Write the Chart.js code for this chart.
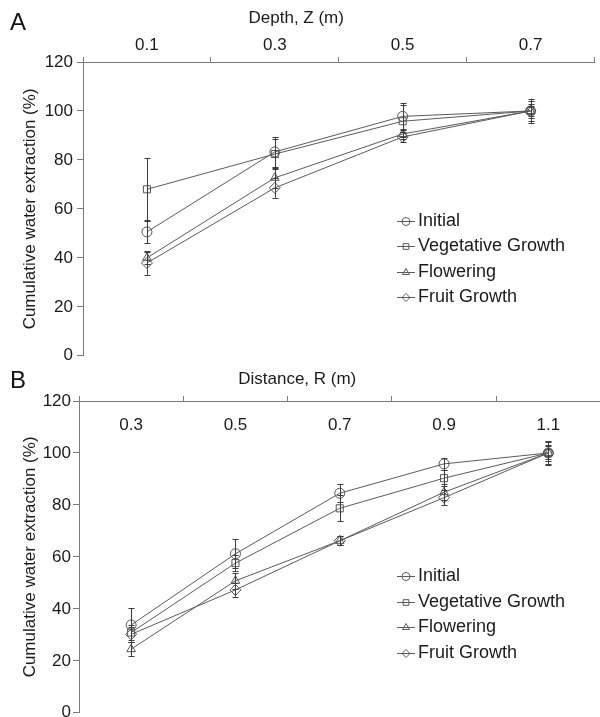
<!DOCTYPE html>
<html>
<head>
<meta charset="utf-8">
<script src="https://cdn.jsdelivr.net/npm/chart.js@4.4.0/dist/chart.umd.min.js"></script>
<style>
  html, body { margin: 0; padding: 0; background: #fff; overflow: hidden; }
  #page { position: relative; width: 600px; height: 717px; overflow: hidden; font-family: "Liberation Sans", Arial, sans-serif; }
  .panel { position: absolute; left: 0; }
  .tag { position: absolute; font-size: 24px; color: #111; line-height: 1; }
</style>
</head>
<body>
<div id="page">
  <div class="panel" style="top:0; width:601px; height:370px"><canvas id="chartA"></canvas></div>
  <div class="panel" style="top:360px; width:607px; height:365px"><canvas id="chartB"></canvas></div>
  <div class="tag" style="left:10px; top:10px">A</div>
  <div class="tag" style="left:10px; top:368px">B</div>
</div>
<script>
// panel A: depth
const depthLabels = ["0.1", "0.3", "0.5", "0.7"];
const depthInitial = [50.6, 83.3, 97.8, 100];
const depthInitialErr = [4.7, 6, 5.5, 5];
const depthVegetative = [68.0, 82.4, 95.8, 100];
const depthVegetativeErr = [12.8, 6, 6.5, 4];
const depthFlowering = [40.0, 72.7, 90.6, 100];
const depthFloweringErr = [2.5, 4, 2, 3];
const depthFruit = [37.9, 68.6, 89.4, 100];
const depthFruitErr = [4.8, 4, 2, 2];

// panel B: distance
const distLabels = ["0.3", "0.5", "0.7", "0.9", "1.1"];
const distInitial = [33.8, 61.2, 84.5, 95.8, 100];
const distInitialErr = [6.5, 5.6, 3.5, 2.3, 4.3];
const distVegetative = [30.9, 57.6, 78.7, 90.3, 100];
const distVegetativeErr = [3, 3, 5, 3, 3];
const distFlowering = [24.5, 50.8, 66.2, 84.9, 100];
const distFloweringErr = [2.6, 3, 1.8, 3, 2.5];
const distFruit = [30.2, 47.3, 66.2, 82.8, 100];
const distFruitErr = [3, 2.6, 1.8, 2.8, 4.5];

const yTicks = { min: 0, max: 120, step: 20 };
const seriesNames = ["Initial", "Vegetative Growth", "Flowering", "Fruit Growth"];
const seriesMarkers = ["circle", "rect", "triangle", "rectRot"];

const FONT = '"Liberation Sans", Arial, sans-serif';
const LINE = "#5a5a5a";
const AXIS = "#7a7a7a";
const TEXT = "#1a1a1a";

// the axis titles sit left of the axis centre in the original,
// trailing spaces push the centred text over
const titleShift = "\u00a0".repeat(18);

const errorBars = {
  id: "errorBars",
  afterDatasetsDraw(chart) {
    const ctx = chart.ctx;
    const y = chart.scales.y;
    ctx.save();
    ctx.strokeStyle = "#3c3c3c";
    ctx.lineWidth = 1;
    chart.data.datasets.forEach((ds, i) => {
      chart.getDatasetMeta(i).data.forEach((pt, j) => {
        const top = y.getPixelForValue(ds.data[j] + ds.errors[j]);
        const bot = y.getPixelForValue(ds.data[j] - ds.errors[j]);
        const x = Math.round(pt.x) + 0.5;
        ctx.beginPath();
        ctx.moveTo(x, top); ctx.lineTo(x, bot);
        ctx.moveTo(x - 3, Math.round(top) + 0.5); ctx.lineTo(x + 3, Math.round(top) + 0.5);
        ctx.moveTo(x - 3, Math.round(bot) + 0.5); ctx.lineTo(x + 3, Math.round(bot) + 0.5);
        ctx.stroke();
      });
    });
    ctx.restore();
  }
};

const insideLegend = {
  id: "insideLegend",
  afterDraw(chart, args, opts) {
    const { ctx, chartArea } = chart;
    ctx.save();
    ctx.font = "18px " + FONT;
    ctx.textBaseline = "middle";
    chart.data.datasets.forEach((ds, i) => {
      const y = Math.round(chartArea.top + opts.top + i * opts.step) + 0.5;
      const x = opts.left;
      ctx.strokeStyle = LINE;
      ctx.lineWidth = 1;
      ctx.beginPath();
      ctx.moveTo(x, y); ctx.lineTo(x + 18, y);
      ctx.stroke();
      ctx.fillStyle = "rgba(255,255,255,0)";
      Chart.helpers.drawPoint(ctx, { pointStyle: ds.pointStyle, radius: 4, borderWidth: 1, rotation: 0 }, x + 9, y);
      ctx.fillStyle = TEXT;
      ctx.fillText(ds.label, x + 21, y);
    });
    ctx.restore();
  }
};

function makeDatasets(values, errors) {
  return values.map((data, i) => ({
    label: seriesNames[i],
    data,
    errors: errors[i],
    borderColor: LINE,
    borderWidth: 1,
    pointStyle: seriesMarkers[i],
    pointRadius: seriesMarkers[i] === "rectRot" ? 5.5 : 5,
    pointBorderColor: "#555",
    pointBackgroundColor: "rgba(255,255,255,0)",
    pointBorderWidth: 1,
    tension: 0,
    fill: false
  }));
}

function makeOptions(cfg) {
  return {
    responsive: true,
    maintainAspectRatio: false,
    animation: false,
    layout: { padding: 0 },
    plugins: {
      legend: { display: false },
      tooltip: { enabled: false },
      insideLegend: cfg.legend
    },
    scales: {
      x: {
        type: "category",
        position: "top",
        offset: true,
        grid: { offset: true, drawOnChartArea: false, tickLength: 5, color: AXIS },
        border: { display: true, color: AXIS, width: 1 },
        ticks: {
          color: TEXT, font: { family: FONT, size: 17 }, maxRotation: 0, autoSkip: false,
          padding: cfg.xTickPad, mirror: cfg.xMirror
        },
        title: {
          display: true, text: cfg.xTitle + titleShift, color: TEXT, font: { family: FONT, size: 17 },
          padding: { top: cfg.xTitlePad, bottom: 0 }
        },
        afterFit: (scale) => { scale.height = cfg.xHeight; }
      },
      y: {
        min: yTicks.min,
        max: yTicks.max,
        grid: { drawOnChartArea: false, tickLength: 6, color: AXIS },
        border: { display: true, color: AXIS, width: 1 },
        ticks: { stepSize: yTicks.step, color: TEXT, font: { family: FONT, size: 17 }, padding: cfg.yTickPad },
        title: {
          display: true, text: "Cumulative water extraction (%)", color: TEXT,
          font: { family: FONT, size: 17 }, padding: { top: 20, bottom: 0 }
        },
        afterFit: (scale) => { scale.width = cfg.yWidth; }
      }
    }
  };
}

new Chart(document.getElementById("chartA"), {
  type: "line",
  data: {
    labels: depthLabels,
    datasets: makeDatasets(
      [depthInitial, depthVegetative, depthFlowering, depthFruit],
      [depthInitialErr, depthVegetativeErr, depthFloweringErr, depthFruitErr]
    )
  },
  options: makeOptions({
    xTitle: "Depth, Z (m)", xHeight: 62, xTitlePad: 8, xTickPad: 1, xMirror: false,
    yWidth: 83, yTickPad: 4,
    legend: { left: 397, top: 159, step: 25.4 }
  }),
  plugins: [errorBars, insideLegend]
});

new Chart(document.getElementById("chartB"), {
  type: "line",
  data: {
    labels: distLabels,
    datasets: makeDatasets(
      [distInitial, distVegetative, distFlowering, distFruit],
      [distInitialErr, distVegetativeErr, distFloweringErr, distFruitErr]
    )
  },
  options: makeOptions({
    xTitle: "Distance, R (m)", xHeight: 41, xTitlePad: 9, xTickPad: 14, xMirror: true,
    yWidth: 79, yTickPad: 2,
    legend: { left: 397, top: 175, step: 25.7 }
  }),
  plugins: [errorBars, insideLegend]
});
</script>
</body>
</html>
